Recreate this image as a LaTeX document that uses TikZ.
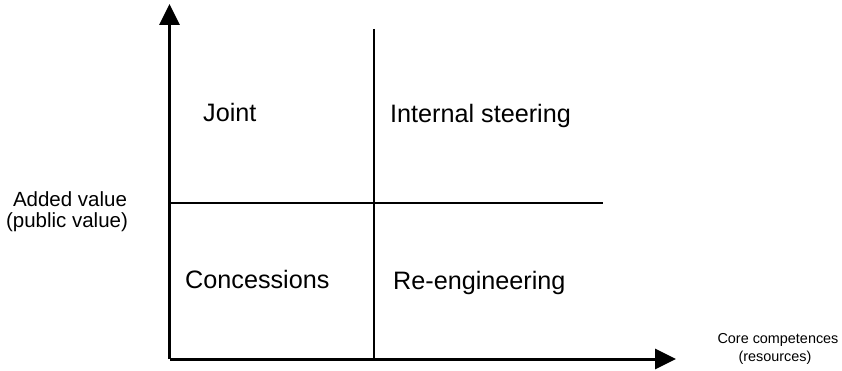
\documentclass[tikz,border=0pt]{standalone}
\usepackage{fontspec}
\setmainfont{Liberation Sans}
\usetikzlibrary{arrows.meta}
\begin{document}
\begin{tikzpicture}[x=1pt,y=-1pt,
  axis/.style={line width=3pt,-{Triangle[length=21pt,width=20pt]}},
  divider/.style={line width=1.5pt},
  quad/.style={anchor=base west,inner sep=0pt,font=\fontsize{25.2}{28}\selectfont},
  ylab/.style={anchor=base,inner sep=0pt,font=\fontsize{20.5}{22}\selectfont},
  xlab/.style={anchor=base,inner sep=0pt,font=\fontsize{14.4}{17}\selectfont}]
\useasboundingbox (0,0) rectangle (842,371);
% axes
\coordinate (O) at (169.5,359);
\coordinate (ytip) at (169.5,4);
\coordinate (xtip) at (676,359);
\draw[axis] (O) -- (ytip);
\draw[axis] (O) -- (xtip);
% dividers
\coordinate (vtop) at (374,29);
\coordinate (vbot) at (374,359);
\coordinate (hleft) at (169.5,203);
\coordinate (hright) at (603,203);
\draw[divider] (vtop) -- (vbot);
\draw[divider] (hleft) -- (hright);
% quadrant labels
\node[quad] (joint) at (203,122) {Joint};
\node[quad] (steer) at (390,122.5) {Internal steering};
\node[quad] (conc) at (185,288) {Concessions};
\node[quad] (reeng) at (393,289) {Re-engineering};
% axis labels
\node[ylab] (added) at (70,207) {Added value};
\node[ylab] (public) at (67,227) {(public value)};
\node[xlab] (core) at (778,343.5) {Core competences};
\node[xlab] (res) at (775,361) {(resources)};
\end{tikzpicture}
\end{document}
